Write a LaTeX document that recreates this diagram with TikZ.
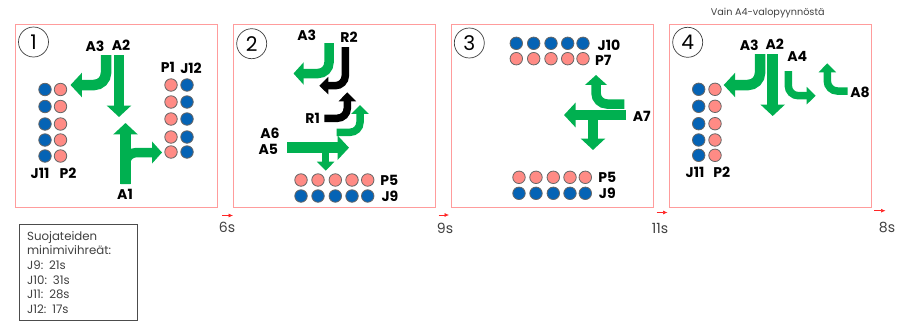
\documentclass[tikz,border=0pt]{standalone}
\usepackage{fontspec}
\setmainfont{Poppins}
\usetikzlibrary{arrows.meta}
\definecolor{turngreen}{HTML}{00B050}
\definecolor{pinkdot}{HTML}{FF8B85}
\definecolor{bluedot}{HTML}{0563B5}
\definecolor{panelred}{HTML}{FF9C9C}
\definecolor{textgray}{HTML}{404040}
\tikzset{panel/.style={draw=panelred,line width=.6pt}}
\tikzset{phase/.style={draw=black!75,circle,inner sep=0pt,minimum size=.6cm,font=\fontsize{11.5}{11.5}\selectfont}}
\tikzset{lbl/.style={font=\bfseries\fontsize{8}{8}\selectfont}}
\tikzset{ped/.style={circle,draw=black!60,fill=pinkdot,line width=.45pt,inner sep=0pt,minimum size=.25cm}}
\tikzset{cyc/.style={circle,draw=black!60,fill=bluedot,line width=.45pt,inner sep=0pt,minimum size=.25cm}}
\tikzset{big/.style={line width=.21cm,-{Triangle[length=.23cm,width=.48cm]},rounded corners=.24cm}}
\tikzset{mid/.style={line width=.19cm,-{Triangle[length=.2cm,width=.43cm]},rounded corners=.22cm}}
\tikzset{small/.style={line width=.15cm,-{Triangle[length=.18cm,width=.34cm]},rounded corners=.2cm}}
\tikzset{step arrow/.style={draw=red!85,line width=.35pt,-{Latex[length=.09cm,width=.08cm]}}}
\tikzset{secs/.style={text=textgray,font=\fontsize{8}{8}\selectfont}}

\begin{document}
\begin{tikzpicture}[x=.02cm,y=-.02cm]
  \useasboundingbox (0,0) rectangle (899,321);
  % panels
  \draw[panel] (15.5,24.5) rectangle (217.5,207.5);
  \draw[panel] (233.5,24.5) rectangle (435.5,207.5);
  \draw[panel] (451.5,24.5) rectangle (653.5,207.5);
  \draw[panel] (669.5,24.5) rectangle (871.5,207.5);
  \node[phase] (n1) at (33.5,42) {1};
  \node[phase] (n2) at (251.7,43.7) {2};
  \node[phase] (n3) at (469.3,43) {3};
  \node[phase] (n4) at (687.7,42.3) {4};

  % phase 1
  \foreach \y [count=\i] in {89.5,106.5,124,140,156} {
    \node[cyc] (c1\i) at (45,\y) {};
    \node[ped] (p1\i) at (60.5,\y) {};
  }
  \foreach \y [count=\i] in {85,102,119,137,152} {
    \node[ped] (q1\i) at (171,\y) {};
    \node[cyc] (d1\i) at (187,\y) {};
  }
  \draw[big,turngreen] (106,55) -- (106,85) -- (70.5,85);
  \draw[big,turngreen] (119,55) -- (119,117);
  \draw[big,turngreen] (125.5,184) -- (125.5,123);
  \draw[mid,turngreen] (125.5,184) -- (125.5,152.5) -- (162,152.5);
  \node[lbl] (a13) at (95,46) {A3};
  \node[lbl] (a12) at (121,45) {A2};
  \node[lbl] (a11) at (125,194) {A1};
  \node[lbl] (p11) at (168,67) {P1};
  \node[lbl] (j12) at (191,68) {J12};
  \node[lbl] (j11) at (40,173) {J11};
  \node[lbl] (p12) at (68,173) {P2};

  % phase 2
  \foreach \x [count=\i] in {301,318,335.3,352,367.7} {
    \node[ped] (p2\i) at (\x,180) {};
    \node[cyc] (c2\i) at (\x,196) {};
  }
  \draw[mid,turngreen] (329,43) -- (329,73.5) -- (293.5,73.5);
  \draw[small,black] (345.3,47) -- (345.3,85.7) -- (319.3,85.7);
  \draw[small,black] (324.3,118.3) -- (347.3,118.3) -- (347.3,92.3);
  \draw[small,turngreen] (336.7,132.3) -- (360,132.3) -- (360,105);
  \draw[big,turngreen] (287.3,147.7) -- (349,147.7);
  \draw[small,turngreen] (325.7,147.7) -- (325.7,170.7);
  \node[lbl] (a23) at (306.7,35.7) {A3};
  \node[lbl] (r22) at (349,37.3) {R2};
  \node[lbl] (r21) at (312.7,118.3) {R1};
  \node[lbl] (a26) at (270,133.3) {A6};
  \node[lbl] (a25) at (268.3,149.3) {A5};
  \node[lbl] (p25) at (389.3,180) {P5};
  \node[lbl] (j29) at (390,196) {J9};

  % phase 3
  \foreach \x [count=\i] in {516.3,533.7,551,567.7,583} {
    \node[cyc] (c3\i) at (\x,43.3) {};
    \node[ped] (p3\i) at (\x,58.7) {};
  }
  \foreach \x [count=\i] in {519,536,553.3,570,585.3} {
    \node[ped] (q3\i) at (\x,177.3) {};
    \node[cyc] (d3\i) at (\x,193.3) {};
  }
  \draw[mid,turngreen] (624.3,104) -- (596,104) -- (596,75);
  \draw[big,turngreen] (626,115) -- (564,115);
  \draw[big,turngreen] (593,115) -- (593,150);
  \node[lbl] (j310) at (609,45) {J10};
  \node[lbl] (p37) at (603.3,60) {P7};
  \node[lbl] (a37) at (641.7,116.7) {A7};
  \node[lbl] (p35) at (607.3,177.7) {P5};
  \node[lbl] (j39) at (607.3,193.3) {J9};

  % phase 4
  \foreach \y [count=\i] in {89.3,106.3,123.7,140,155.3} {
    \node[cyc] (c4\i) at (698.7,\y) {};
    \node[ped] (p4\i) at (715,\y) {};
  }
  \draw[big,turngreen] (760,54) -- (760,85) -- (723.7,85);
  \draw[big,turngreen] (772.7,54) -- (772.7,116);
  \draw[small,turngreen] (788.3,71) -- (788.3,95.7) -- (815.7,95.7);
  \draw[small,turngreen] (847.7,91) -- (827.3,91) -- (827.3,63.3);
  \node[lbl] (a43) at (749.3,45) {A3};
  \node[lbl] (a42) at (774.7,44.3) {A2};
  \node[lbl] (a44) at (797.3,56.7) {A4};
  \node[lbl] (a48) at (860,92.3) {A8};
  \node[lbl] (j41) at (695,172.3) {J11};
  \node[lbl] (p42) at (721.7,172.7) {P2};
  \node[secs,font=\fontsize{5.5}{5.5}\selectfont] (only) at (767.7,12.7) {Vain A4-valopyynnöstä};

  % times
  \draw[step arrow] (222,215.5) -- (233,215.5);
  \draw[step arrow] (438.5,215) -- (449,215);
  \draw[step arrow] (656.5,212.5) -- (667.5,212.5);
  \draw[step arrow] (874,210.7) -- (885.5,210.7);
  \node[secs] (t1) at (227,227.7) {6s};
  \node[secs] (t2) at (445,228) {9s};
  \node[secs] (t3) at (660,228) {11s};
  \node[secs] (t4) at (887,227.3) {8s};

  % minimum greens
  \node[draw=black!70,line width=.7pt,anchor=north west,align=left,text=textgray,
    text width=2.06cm,minimum height=1.93cm,inner xsep=.15cm,inner ysep=0pt,
    font=\fontsize{6.7}{8.35}\selectfont] (mingreen) at (19,223.5)
    {Suojateiden\\minimivihreät:\\J9: 21s\\J10: 31s\\J11: 28s\\J12: 17s};
\end{tikzpicture}
\end{document}
